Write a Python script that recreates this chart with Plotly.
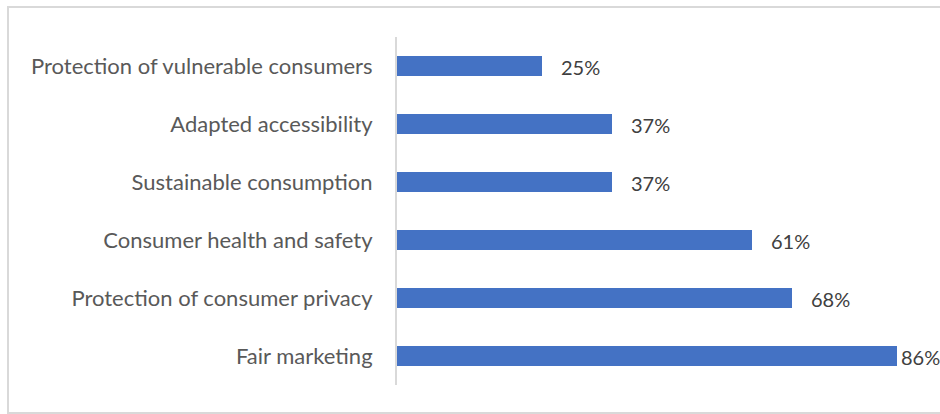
import plotly.graph_objects as go

# Share of respondents per consumer-protection topic (bottom to top)
categories = [
    "Fair marketing",
    "Protection of consumer privacy",
    "Consumer health and safety",
    "Sustainable consumption",
    "Adapted accessibility",
    "Protection of vulnerable consumers",
]
values = [86, 68, 61, 37, 37, 25]
value_labels = [f"{v}%" for v in values]

W, H = 940, 414
ML, MR, MT, MB = 397, 8, 37, 29
plot_w = W - ML - MR
plot_h = H - MT - MB
X_MAX = 92

FONT = "Lato, 'Open Sans', sans-serif"

fig = go.Figure()
fig.add_trace(go.Bar(
    y=categories,
    x=values,
    orientation="h",
    width=0.345,
    marker=dict(color="#4472C4", line=dict(width=0)),
    hoverinfo="skip",
))

# value labels to the right of each bar; a label near the right edge
# is pulled closer to its bar so it stays inside the chart
label_w = 41
for c, v, t in zip(categories, values, value_labels):
    bar_end = ML + v / X_MAX * plot_w
    shift = min(17, W - label_w - bar_end)
    fig.add_annotation(
        x=v, y=c, text=t, xanchor="left", yanchor="middle",
        xshift=shift, yshift=-1, showarrow=False,
        font=dict(family=FONT, size=20, color="#404040"),
    )

# light frame around the chart area
fig.add_shape(
    type="rect", xref="paper", yref="paper",
    x0=(8 - ML) / plot_w, x1=(W + 10 - ML) / plot_w,
    y0=-(413 - (H - MB)) / plot_h, y1=1 + (MT - 7) / plot_h,
    line=dict(color="#D9D9D9", width=2), layer="below",
)

fig.update_layout(
    width=W, height=H,
    margin=dict(l=ML, r=MR, t=MT, b=MB),
    paper_bgcolor="white", plot_bgcolor="white",
    showlegend=False,
    bargap=0,
    xaxis=dict(range=[0, X_MAX], visible=False, fixedrange=True),
    yaxis=dict(
        range=[-0.5, 5.5],
        showline=True, linecolor="#D9D9D9", linewidth=2,
        showgrid=False, zeroline=False,
        ticks="", ticklabelstandoff=18,
        tickfont=dict(family=FONT, size=22, color="#595959"),
        fixedrange=True,
    ),
)

fig.write_html("out.html")
